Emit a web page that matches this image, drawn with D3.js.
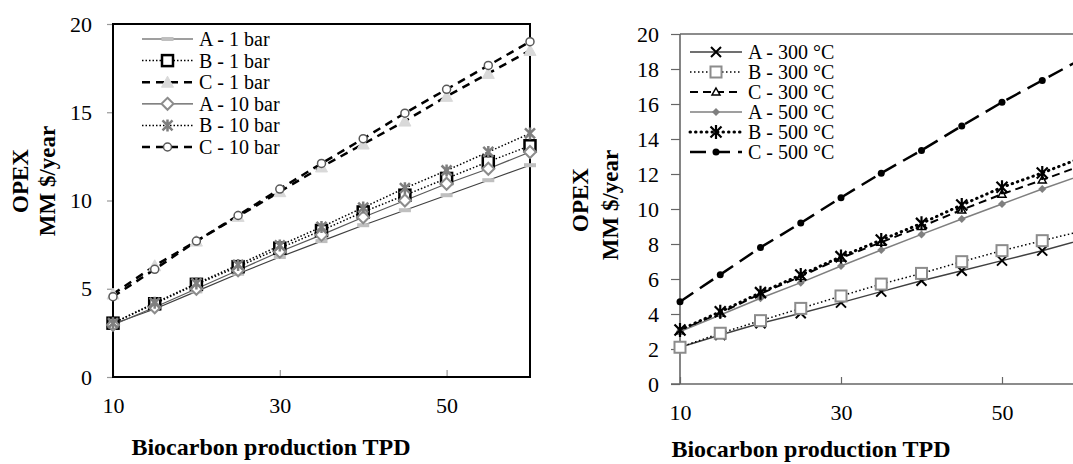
<!DOCTYPE html>
<html><head><meta charset="utf-8">
<script src="https://cdn.jsdelivr.net/npm/d3@7"></script>
<style>body{margin:0;background:#fff}svg{display:block;background:#fff}svg text{font-family:"Liberation Serif","Times New Roman",Times,"DejaVu Serif",serif !important;fill:#000}</style>
</head><body><svg id="c" width="1073" height="464"></svg>
<script>
// ---- data ----
const tpd = [10,15,20,25,30,35,40,45,50,55,60];
const xTicks = [10,30,50];
const yTicksLeft = [0,5,10,15,20];
const yTicksRight = [0,2,4,6,8,10,12,14,16,18,20];

const leftNames = ["A - 1 bar","B - 1 bar","C - 1 bar","A - 10 bar","B - 10 bar","C - 10 bar"];
const leftA1  = [3.0,3.85,4.85,5.85,6.8,7.7,8.6,9.45,10.3,11.15,12.0];
const leftB1  = [3.05,4.15,5.25,6.25,7.3,8.3,9.35,10.3,11.25,12.2,13.1];
const leftC1  = [4.7,6.3,7.7,9.1,10.5,11.9,13.2,14.5,15.9,17.2,18.5];
const leftA10 = [2.95,3.95,5.0,6.05,7.1,8.05,9.05,10.0,10.95,11.8,12.75];
const leftB10 = [3.05,4.2,5.3,6.35,7.45,8.5,9.6,10.7,11.7,12.75,13.8];
const leftC10 = [4.55,6.1,7.7,9.15,10.65,12.1,13.5,14.95,16.3,17.65,19.0];

const rightNames = ["A - 300 °C","B - 300 °C","C - 300 °C","A - 500 °C","B - 500 °C","C - 500 °C"];
const rightA300 = [2.1,2.8,3.47,4.04,4.65,5.28,5.9,6.47,7.05,7.62,8.25];
const rightB300 = [2.1,2.9,3.62,4.32,5.03,5.71,6.32,6.99,7.62,8.19,8.75];
const rightC300 = [3.05,4.05,5.15,6.15,7.2,8.1,9.0,9.95,10.85,11.66,12.5];
const rightA500 = [3.0,3.94,4.9,5.79,6.74,7.66,8.55,9.43,10.29,11.14,11.95];
const rightB500 = [3.09,4.13,5.22,6.23,7.28,8.23,9.18,10.23,11.24,12.06,12.95];
const rightC500 = [4.7,6.25,7.8,9.2,10.65,12.05,13.35,14.75,16.1,17.35,18.6];

// ---- styles ----
const leftStyles = [
  {stroke:"#404040", w:1.2, dash:null, m:"bar"},
  {stroke:"#000", w:1.5, dash:"1.5,2", m:"sqBlack"},
  {stroke:"#000", w:2.5, dash:"8,6", m:"triGray"},
  {stroke:"#595959", w:1.2, dash:null, m:"diaGray"},
  {stroke:"#000", w:1.5, dash:"1.5,2", m:"starGray"},
  {stroke:"#000", w:2.5, dash:"8,6", m:"circ"}
];
const rightStyles = [
  {stroke:"#404040", w:1.5, dash:null, m:"xBlack"},
  {stroke:"#000", w:1.5, dash:"1.5,2.5", m:"sqGray"},
  {stroke:"#000", w:2, dash:"8,5", m:"triSmall"},
  {stroke:"#7f7f7f", w:1.5, dash:null, m:"diaSmall"},
  {stroke:"#000", w:3, dash:"0.5,5", cap:"round", m:"starBlack"},
  {stroke:"#000", w:2.5, dash:"16,8", m:"dot"}
];

const FONT = '"Liberation Serif","Times New Roman",Times,"DejaVu Serif",serif';
const svg = d3.select("#c");
svg.append("rect").attr("width",1073).attr("height",464).attr("fill","#fff");

function marker(g, type, x, y){
  switch(type){
    case "bar": g.append("rect").attr("x",x-6).attr("y",y-2).attr("width",12).attr("height",4).attr("fill","#bfbfbf"); break;
    case "sqBlack": g.append("rect").attr("x",x-5.5).attr("y",y-5.5).attr("width",11).attr("height",11).attr("fill","#fff").attr("stroke","#000").attr("stroke-width",2.5); break;
    case "triGray": g.append("path").attr("d",`M${x},${y-6}L${x+6},${y+5}L${x-6},${y+5}Z`).attr("fill","#d9d9d9").attr("stroke","#d9d9d9").attr("stroke-width",1); break;
    case "diaGray": g.append("path").attr("d",`M${x},${y-6}L${x+6},${y}L${x},${y+6}L${x-6},${y}Z`).attr("fill","#fff").attr("stroke","#8c8c8c").attr("stroke-width",2); break;
    case "starGray": g.append("path").attr("d",`M${x-5},${y-5}L${x+5},${y+5}M${x-5},${y+5}L${x+5},${y-5}M${x},${y-6}L${x},${y+6}`).attr("stroke","#7f7f7f").attr("stroke-width",2.5).attr("fill","none"); break;
    case "circ": g.append("circle").attr("cx",x).attr("cy",y).attr("r",4).attr("fill","#fff").attr("stroke","#595959").attr("stroke-width",1.5); break;
    case "xBlack": g.append("path").attr("d",`M${x-5},${y-5}L${x+5},${y+5}M${x-5},${y+5}L${x+5},${y-5}`).attr("stroke","#000").attr("stroke-width",2).attr("fill","none"); break;
    case "sqGray": g.append("rect").attr("x",x-5.5).attr("y",y-5.5).attr("width",11).attr("height",11).attr("fill","#fff").attr("stroke","#8c8c8c").attr("stroke-width",2); break;
    case "triSmall": g.append("path").attr("d",`M${x},${y-4}L${x+4},${y+3}L${x-4},${y+3}Z`).attr("fill","#fff").attr("stroke","#000").attr("stroke-width",1.5); break;
    case "diaSmall": g.append("path").attr("d",`M${x},${y-4}L${x+4},${y}L${x},${y+4}L${x-4},${y}Z`).attr("fill","#7f7f7f"); break;
    case "starBlack": g.append("path").attr("d",`M${x-5.5},${y-5.5}L${x+5.5},${y+5.5}M${x-5.5},${y+5.5}L${x+5.5},${y-5.5}M${x},${y-7}L${x},${y+7}`).attr("stroke","#000").attr("stroke-width",2.2).attr("fill","none"); break;
    case "dot": g.append("circle").attr("cx",x).attr("cy",y).attr("r",3.5).attr("fill","#000"); break;
  }
}

function drawPanel(opt){
  const x = d3.scaleLinear().domain([10,60]).range(opt.xr);
  const y = d3.scaleLinear().domain([0,20]).range(opt.yr);
  const g = svg.append("g");
  const ya = g.append("g").attr("transform",`translate(${opt.xr[0]},0)`)
    .call(d3.axisLeft(y).tickValues(opt.yTicks).tickSize(opt.ytick).tickPadding(opt.ypad).tickFormat(d3.format("d")));
  ya.attr("font-family",FONT);
  ya.select(".domain").remove();
  ya.selectAll(".tick line").attr("stroke",opt.tickColor).attr("stroke-width",1.2);
  ya.selectAll("text").attr("font-size",22).style("font-family",FONT);
  const xa = g.append("g").attr("transform",`translate(0,${opt.yr[0]})`)
    .call(d3.axisBottom(x).tickValues(xTicks).tickSizeInner(-7).tickSizeOuter(0).tickPadding(opt.xpad).tickFormat(d3.format("d")));
  xa.attr("font-family",FONT);
  xa.select(".domain").remove();
  xa.selectAll(".tick line").attr("stroke",opt.tickColor).attr("stroke-width",1.2);
  xa.selectAll("text").attr("font-size",22).style("font-family",FONT);
  if(opt.box){
    g.append("rect").attr("x",opt.xr[0]).attr("y",opt.yr[1]).attr("width",x(60)-opt.xr[0]).attr("height",opt.yr[0]-opt.yr[1])
      .attr("fill","none").attr("stroke","#000").attr("stroke-width",2);
  } else {
    g.append("line").attr("x1",opt.xr[0]).attr("x2",opt.xr[0]).attr("y1",opt.yr[1]).attr("y2",opt.yr[0]).attr("stroke","#666").attr("stroke-width",1.6);
    g.append("line").attr("x1",opt.xr[0]-opt.ytick).attr("x2",1073).attr("y1",opt.yr[0]).attr("y2",opt.yr[0]).attr("stroke","#666").attr("stroke-width",1.6);
    g.append("line").attr("x1",opt.xr[0]).attr("x2",1073).attr("y1",opt.yr[1]).attr("y2",opt.yr[1]).attr("stroke","#666").attr("stroke-width",1.6);
  }
  const line = d3.line().x((d,i)=>x(tpd[i])).y(d=>y(d));
  opt.series.forEach((s,k)=>{
    const st = opt.styles[k];
    g.append("path").attr("d",line(s)).attr("fill","none").attr("stroke",st.stroke).attr("stroke-width",st.w)
      .attr("stroke-dasharray",st.dash).attr("stroke-linecap",st.cap||"butt");
  });
  opt.series.forEach((s,k)=>{
    const st = opt.styles[k];
    const mg = g.append("g");
    s.forEach((v,i)=>marker(mg, st.m, x(tpd[i]), y(v)));
  });
  const lg = g.append("g");
  opt.names.forEach((n,k)=>{
    const st = opt.styles[k];
    const ly = opt.leg.y0 + k*opt.leg.dy;
    lg.append("line").attr("x1",opt.leg.x1).attr("x2",opt.leg.x2).attr("y1",ly).attr("y2",ly)
      .attr("stroke",st.stroke).attr("stroke-width",st.w).attr("stroke-dasharray",st.dash).attr("stroke-linecap",st.cap||"butt");
    marker(lg, st.m, (opt.leg.x1+opt.leg.x2)/2, ly);
    lg.append("text").attr("x",opt.leg.tx).attr("y",ly).attr("dy","0.35em").attr("font-size",opt.leg.fs).style("font-family",FONT).text(n);
  });
  g.append("text").attr("transform",`translate(${opt.t1[0]},${opt.t1[1]}) rotate(-90)`).attr("text-anchor","middle")
    .attr("font-weight","bold").attr("font-size",23).style("font-family",FONT).text("OPEX");
  g.append("text").attr("transform",`translate(${opt.t2[0]},${opt.t2[1]}) rotate(-90)`).attr("text-anchor","middle")
    .attr("font-weight","bold").attr("font-size",23).style("font-family",FONT).text("MM $/year");
  g.append("text").attr("x",opt.xt[0]).attr("y",opt.xt[1]).attr("text-anchor","middle")
    .attr("font-weight","bold").attr("font-size",24).style("font-family",FONT).text("Biocarbon production TPD");
}

drawPanel({
  xr:[113,530], yr:[377,24], yTicks:yTicksLeft, ytick:6, ypad:15, xpad:20, tickColor:"#999", box:true,
  series:[leftA1,leftB1,leftC1,leftA10,leftB10,leftC10], styles:leftStyles, names:leftNames,
  leg:{x1:142,x2:193,tx:199,y0:39,dy:21.6,fs:20},
  t1:[28,181], t2:[55,181], xt:[271,455]
});
drawPanel({
  xr:[680,1082.5], yr:[384,34], yTicks:yTicksRight, ytick:9, ypad:12, xpad:20, tickColor:"#666", box:false,
  series:[rightA300,rightB300,rightC300,rightA500,rightB500,rightC500], styles:rightStyles, names:rightNames,
  leg:{x1:690,x2:742,tx:748,y0:52,dy:20,fs:20},
  t1:[588,200], t2:[618,205], xt:[811,457]
});
</script></body></html>
